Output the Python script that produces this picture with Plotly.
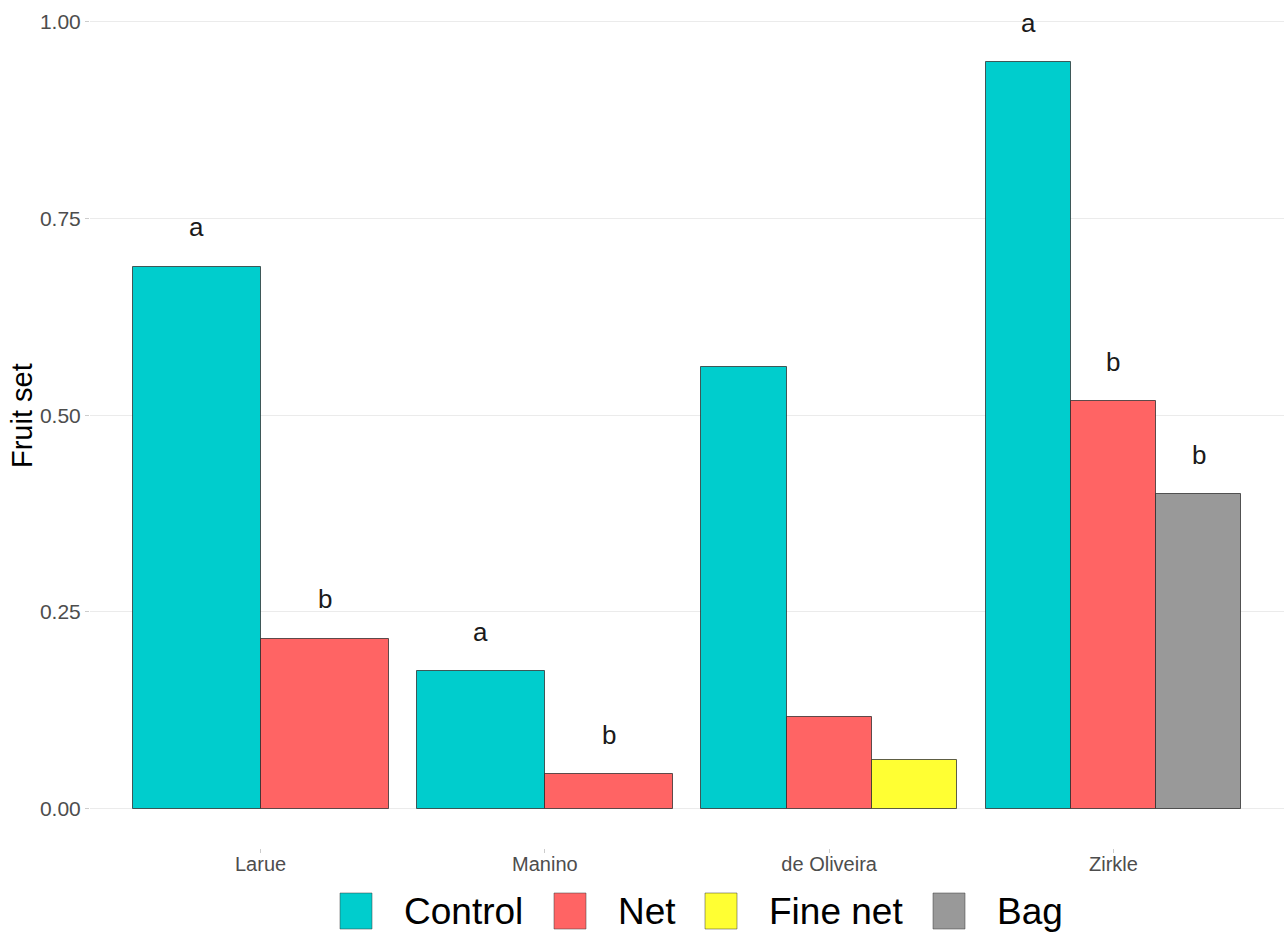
import plotly.graph_objects as go

# ---- data ----
sites = ["Larue", "Manino", "de Oliveira", "Zirkle"]
treatments = ["Control", "Net", "Fine net", "Bag"]
control = [0.689, 0.175, 0.562, 0.949]
net = [0.216, 0.044, 0.116, 0.518]
fine_net = [None, None, 0.062, None]
bag = [None, None, None, 0.400]
letters_control = ["a", "a", "", "a"]
letters_net = ["b", "b", "", "b"]
letters_fine_net = ["", "", "", ""]
letters_bag = ["", "", "", "b"]
y_ticks = [0.0, 0.25, 0.5, 0.75, 1.0]
y_tick_labels = ["0.00", "0.25", "0.50", "0.75", "1.00"]

colors = ["#00CDCD", "#FF6464", "#FFFF33", "#999999"]
series = [control, net, fine_net, bag]
letters = [letters_control, letters_net, letters_fine_net, letters_bag]

FONT = "Liberation Sans, Arial, sans-serif"
DODGE = 0.9

# count bars per site for ggplot-like dodge
n_per_site = [sum(1 for s in series if s[i] is not None) for i in range(len(sites))]

fig = go.Figure()
annotations = []
for t_idx, (name, vals, col, lets) in enumerate(zip(treatments, series, colors, letters)):
    xs, ys, ws = [], [], []
    for i, v in enumerate(vals):
        if v is None:
            continue
        n = n_per_site[i]
        k = sum(1 for s in series[:t_idx] if s[i] is not None)
        w = DODGE / n
        xc = (i + 1) - DODGE / 2 + w * (k + 0.5)
        xs.append(xc)
        ys.append(v)
        ws.append(w)
        if lets[i]:
            annotations.append(dict(x=xc, y=v + 0.05, xref="x", yref="y", text=lets[i],
                                    showarrow=False, yanchor="middle",
                                    font=dict(family=FONT, size=26, color="#1a1a1a")))
    fig.add_trace(go.Bar(x=xs, y=ys, width=ws, name=name, marker_color=col,
                         marker_line=dict(color="rgba(40,40,40,0.75)", width=1),
                         showlegend=False))

# manual legend (large keys like ggplot)
L, R, T, B = 90, 3, 5, 86
W, H = 1287, 934
pw, ph = W - L - R, H - T - B
def px2paper_x(px):
    return (px - L) / pw
def px2paper_y(py):
    return (H - B - py) / ph

legend_box_x = [340, 554, 705, 933]
shapes = []
for bx, col, name in zip(legend_box_x, colors, treatments):
    shapes.append(dict(type="rect", xref="paper", yref="paper",
                       x0=px2paper_x(bx), x1=px2paper_x(bx + 32),
                       y0=px2paper_y(929), y1=px2paper_y(893),
                       fillcolor=col, line=dict(color="rgba(60,60,60,0.5)", width=1)))
    annotations.append(dict(x=px2paper_x(bx + 32 + 30), y=px2paper_y(911), xref="paper", yref="paper",
                            text=name, showarrow=False, xanchor="left", yanchor="middle",
                            font=dict(family=FONT, size=37, color="#000000")))

# y-axis title
annotations.append(dict(x=px2paper_x(22), y=px2paper_y(416), xref="paper", yref="paper",
                        text="Fruit set", textangle=-90, showarrow=False,
                        xanchor="center", yanchor="middle",
                        font=dict(family=FONT, size=29, color="#000000")))

fig.update_layout(
    width=W, height=H,
    margin=dict(l=L, r=R, t=T, b=B),
    paper_bgcolor="white", plot_bgcolor="white",
    bargap=0, barmode="overlay",
    font=dict(family=FONT),
    shapes=shapes,
    annotations=annotations,
)
fig.update_xaxes(range=[0.4, 4.6], tickvals=[1, 2, 3, 4], ticktext=sites,
                 showgrid=False, zeroline=False, showline=False,
                 ticks="outside", ticklen=4, tickcolor="#cccccc", tickwidth=1,
                 ticklabelstandoff=-6,
                 tickfont=dict(family=FONT, size=20, color="#4d4d4d"))
fig.update_yaxes(range=[-0.05, (H - B - T) / 786.7 - 0.05], tickvals=y_ticks, ticktext=y_tick_labels,
                 showgrid=True, gridcolor="#EBEBEB", gridwidth=1,
                 zeroline=False, showline=False,
                 ticks="outside", ticklen=4, tickcolor="#cccccc", tickwidth=1,
                 tickfont=dict(family=FONT, size=21, color="#4d4d4d"))

fig.write_html("out.html", config={"displayModeBar": False},
               post_script="document.body.style.margin='0px';document.body.style.overflow='hidden';")
